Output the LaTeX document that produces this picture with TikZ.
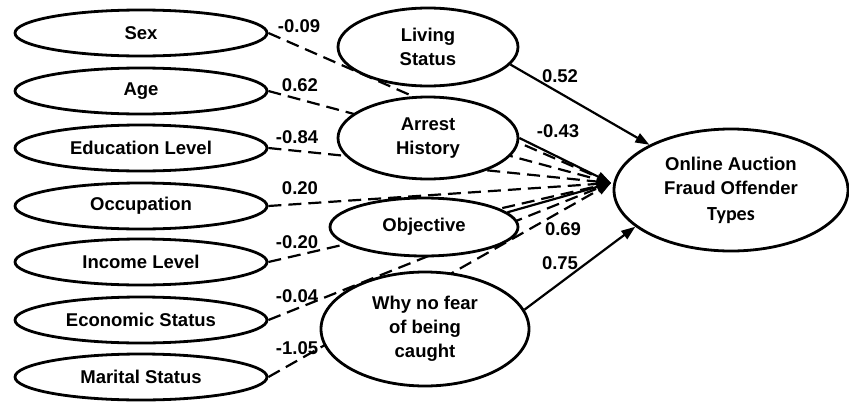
\documentclass[tikz,border=0pt]{standalone}
\usepackage{fontspec}
\setmainfont{Liberation Sans}
\newfontfamily\typesfont{Carlito}
\usetikzlibrary{shapes.geometric,arrows.meta,backgrounds}

\tikzset{
	indep/.style={ellipse, draw, line width=2.8pt, inner sep=0pt, minimum width=252pt, minimum height=46pt, font=\fontsize{18.5}{24}\selectfont\bfseries},
	medvar/.style={indep, fill=white, align=center},
	coef/.style={inner sep=0pt, font=\fontsize{18.5}{22}\selectfont\bfseries},
	eff/.style={line width=2.2pt, -{Triangle[length=14pt,width=10pt]}},
	noeff/.style={eff, dash pattern=on 13pt off 7pt},
}

\begin{document}
\begin{tikzpicture}[x=1pt, y=-1pt, line cap=butt, line join=miter]
	\useasboundingbox (0,0) rectangle (849,402);
	
	% Left variables
	\node[indep] (sex) at (141,33) {Sex};
	\node[indep] (age) at (141,91) {Age};
	\node[indep] (edu) at (141,148) {Education Level};
	\node[indep] (occ) at (141,206) {Occupation};
	\node[indep] (inc) at (141,262) {Income Level};
	\node[indep] (eco) at (141,320) {Economic Status};
	\node[indep] (mar) at (141,377) {Marital Status};
	
	% Middle variables
	\node[medvar, minimum width=180pt, minimum height=78pt] (liv) at (428,47) {Living\\Status};
	\node[medvar, minimum width=180pt, minimum height=82pt] (arr) at (428,138) {Arrest\\History};
	\node[medvar, minimum width=188pt, minimum height=58pt] (obj) at (424,227) {Objective};
	\node[medvar, minimum width=208pt, minimum height=114pt] (why) at (425,329) {Why no fear\\of being\\caught};
	
	% Outcome
	\node[indep, minimum width=234pt, minimum height=122pt, align=center] (tgt) at (731,190)
	{Online Auction\\Fraud Offender\\[2pt]{\typesfont\fontsize{20}{24}\selectfont\bfseries Types}};
	\coordinate (hub) at (611,183);
	
	% Paths
	\begin{scope}[on background layer]
		\draw[noeff] (sex.east) -- (hub);
		\draw[noeff] (age.east) -- (hub);
		\draw[noeff] (edu.east) -- (hub);
		\draw[noeff] (occ.east) -- (hub);
		\draw[noeff] (inc.east) -- (hub);
		\draw[noeff] (eco.east) -- (hub);
		\draw[noeff] (mar.east) -- (hub);
		\draw[eff] (liv.-12) -- (tgt.151);
		\draw[eff] (arr.east) -- (hub);
		\draw[eff] (obj.10) -- (hub);
		\draw[eff] (why.11) -- (tgt.201);
	\end{scope}
	
	% Coefficients
	\node[coef] (csex) at (299,26) {-0.09};
	\node[coef] (cage) at (300,85) {0.62};
	\node[coef] (cedu) at (297,137) {-0.84};
	\node[coef] (cocc) at (300,188) {0.20};
	\node[coef] (cinc) at (297,242) {-0.20};
	\node[coef] (ceco) at (297,296) {-0.04};
	\node[coef] (cmar) at (297,348) {-1.05};
	\node[coef] (cliv) at (560,76) {0.52};
	\node[coef] (carr) at (558,131) {-0.43};
	\node[coef] (cobj) at (563,229) {0.69};
	\node[coef] (cwhy) at (560,263) {0.75};
	
\end{tikzpicture}
\end{document}
